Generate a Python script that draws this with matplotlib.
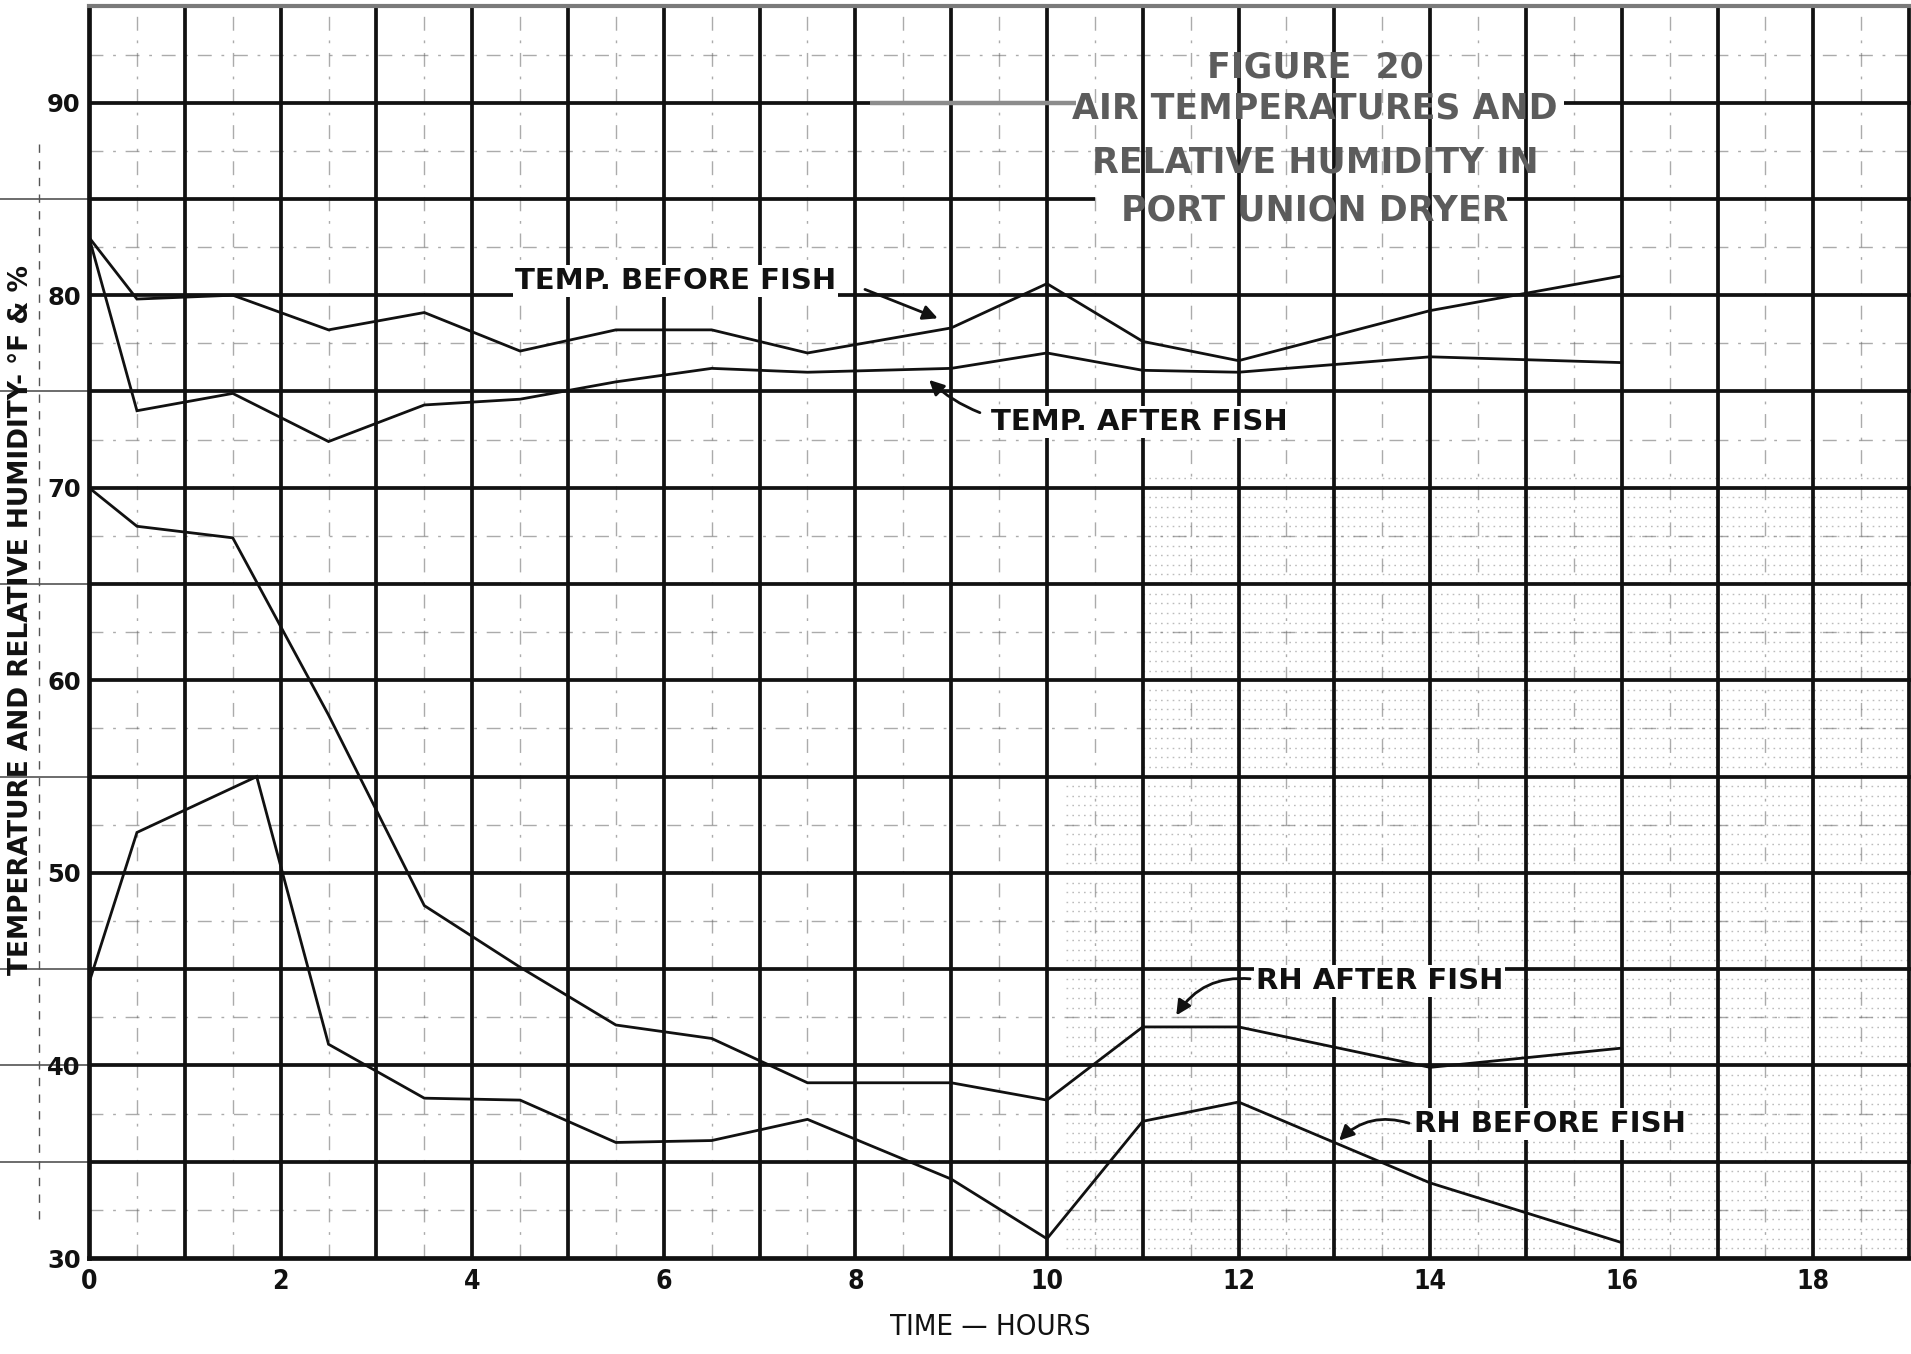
import numpy as np
import matplotlib
matplotlib.use("Agg")
import matplotlib.pyplot as plt

# ---- data (hours, deg F / % RH) ----
hours_temp = [0, 0.5, 1.5, 2.5, 3.5, 4.5, 5.5, 6.5, 7.5, 9, 10, 11, 12, 14, 16]
temp_before = [83.0, 79.8, 80.0, 78.2, 79.1, 77.1, 78.2, 78.2, 77.0, 78.3, 80.6, 77.6, 76.6, 79.2, 81.0]
temp_after = [83.0, 74.0, 74.9, 72.4, 74.3, 74.6, 75.5, 76.2, 76.0, 76.2, 77.0, 76.1, 76.0, 76.8, 76.5]

hours_rh_after = [0, 0.5, 1.5, 2.5, 3.5, 4.5, 5.5, 6.5, 7.5, 9, 10, 11, 12, 14, 16]
rh_after = [70.0, 68.0, 67.4, 58.2, 48.3, 45.1, 42.1, 41.4, 39.1, 39.1, 38.2, 42.0, 42.0, 39.9, 40.9]

hours_rh_before = [0, 0.5, 1.75, 2.5, 3.5, 4.5, 5.5, 6.5, 7.5, 9, 10, 11, 12, 14, 16]
rh_before = [44.3, 52.1, 55.0, 41.1, 38.3, 38.2, 36.0, 36.1, 37.2, 34.1, 31.0, 37.1, 38.1, 33.9, 30.8]

x_ticks = [0, 2, 4, 6, 8, 10, 12, 14, 16, 18]
x_tick_labels = ["0", "2", "4", "6", "8", "10", "12", "14", "16", "18"]
y_ticks = [30, 40, 50, 60, 70, 80, 90]
y_tick_labels = ["30", "40", "50", "60", "70", "80", "90"]

title_lines = ["FIGURE  20", "AIR TEMPERATURES AND", "RELATIVE HUMIDITY IN", "PORT UNION DRYER"]

XMIN, XMAX = 0, 19.02
YMIN, YMAX = 30, 95

INK = "#111111"

fig = plt.figure(figsize=(19.11, 13.54), dpi=100)
fig.patch.set_facecolor("white")
ax = fig.add_axes([0.0466, 0.0709, 0.9534, 0.9244])
ax.set_xlim(XMIN, XMAX)
ax.set_ylim(YMIN, YMAX)

# ---- graph-paper grid ----
minor_style = dict(color="#666666", lw=1.0, ls=(0, (10, 7, 2, 7)), alpha=0.55, zorder=1)
for xv in np.arange(0.5, XMAX, 1.0):
    ax.axvline(xv, **minor_style)
for yv in np.arange(32.5, YMAX, 5.0):
    ax.axhline(yv, **minor_style)

# halftone speckle of the printed sheet (lower right)
for yv in np.arange(30.5, 71.0, 0.5):
    x0 = 11.0 if yv > 55 else 10.2
    ax.hlines(yv, x0, XMAX, color="#7a7a7a", lw=1.0, ls=(0, (1.2, 3.0)), alpha=0.5, zorder=1)

major_kw = dict(color=INK, lw=2.7, zorder=2)
for xv in range(1, 20):
    ax.vlines(xv, YMIN, YMAX, **major_kw)
for yv in range(35, 95, 5):
    if yv == 90:
        ax.hlines(yv, XMIN, 8.15, **major_kw)
        ax.hlines(yv, 8.15, 10.3, color="#8c8c8c", lw=3.2, zorder=2)
        ax.hlines(yv, 15.4, XMAX, **major_kw)
    elif yv == 85:
        ax.hlines(yv, XMIN, 10.5, **major_kw)
        ax.hlines(yv, 14.8, XMAX, **major_kw)
    else:
        ax.hlines(yv, XMIN, XMAX, **major_kw)

# short rules running into the left margin
for yv in [35, 40, 45, 55, 65, 75, 85]:
    ax.plot([-0.93, 0], [yv, yv], color="#444444", lw=1.1, clip_on=False, zorder=1)
ax.plot([-0.52, -0.52], [32, 88], color="#555555", lw=1.0, ls=(0, (6, 6)),
        clip_on=False, zorder=1)

for side in ["left", "bottom"]:
    ax.spines[side].set_color(INK)
    ax.spines[side].set_linewidth(3.4)
ax.spines["top"].set_color("#7a7a7a")
ax.spines["top"].set_linewidth(3.0)
ax.spines["right"].set_visible(False)

# ---- data lines ----
line_kw = dict(color=INK, lw=2.0, solid_joinstyle="miter", zorder=4)
ax.plot(hours_temp, temp_before, **line_kw)
ax.plot(hours_temp, temp_after, **line_kw)
ax.plot(hours_rh_after, rh_after, **line_kw)
ax.plot(hours_rh_before, rh_before, **line_kw)

# ---- ticks ----
ax.set_xticks(x_ticks)
ax.set_xticklabels(x_tick_labels, fontsize=19, fontweight="bold", fontstretch="condensed")
ax.set_yticks(y_ticks)
ax.set_yticklabels(y_tick_labels, fontsize=17.5, fontweight="bold")
ax.tick_params(axis="both", length=0, colors=INK)
ax.tick_params(axis="x", pad=8)
ax.tick_params(axis="y", pad=6)

ax.text(9.41, -0.055, "TIME \u2014 HOURS", transform=ax.get_xaxis_transform(),
        ha="center", va="center", fontsize=21, color=INK, fontstretch="condensed")
fig.text(0.011, 0.542, "TEMPERATURE AND RELATIVE HUMIDITY- \u00b0F & %", rotation=90,
         ha="center", va="center", fontsize=19, fontweight="bold", color=INK)

# ---- title block ----
title_y = [91.8, 89.7, 86.9, 84.4]
for txt, yv in zip(title_lines, title_y):
    ax.text(12.8, yv, txt, ha="center", va="center", fontsize=25, fontweight="bold",
            color="#5c5c5c", zorder=6)

# ---- curve labels with leader arrows ----
lab_kw = dict(ha="left", va="center", fontsize=21, fontweight="bold", color=INK, zorder=6,
              bbox=dict(facecolor="white", edgecolor="none", pad=1.5))
arrow_kw = dict(arrowstyle="-|>", color=INK, lw=2.0, mutation_scale=22, shrinkA=0, shrinkB=0)

ax.text(4.45, 80.75, "TEMP. BEFORE FISH", **lab_kw)
ax.annotate("", xy=(8.86, 78.8), xytext=(8.1, 80.3),
            arrowprops=dict(connectionstyle="arc3,rad=0.0", **arrow_kw), zorder=6)

ax.text(9.42, 73.4, "TEMP. AFTER FISH", **lab_kw)
ax.annotate("", xy=(8.77, 75.6), xytext=(9.3, 73.9),
            arrowprops=dict(connectionstyle="arc3,rad=-0.1", **arrow_kw), zorder=6)

ax.text(12.18, 44.4, "RH AFTER FISH", **lab_kw)
ax.annotate("", xy=(11.35, 42.6), xytext=(12.12, 44.5),
            arrowprops=dict(connectionstyle="arc3,rad=0.3", **arrow_kw), zorder=6)

ax.text(13.83, 36.95, "RH BEFORE FISH", **lab_kw)
ax.annotate("", xy=(13.05, 36.1), xytext=(13.78, 37.0),
            arrowprops=dict(connectionstyle="arc3,rad=0.3", **arrow_kw), zorder=6)

fig.savefig("out.png", dpi=100, facecolor="white")
